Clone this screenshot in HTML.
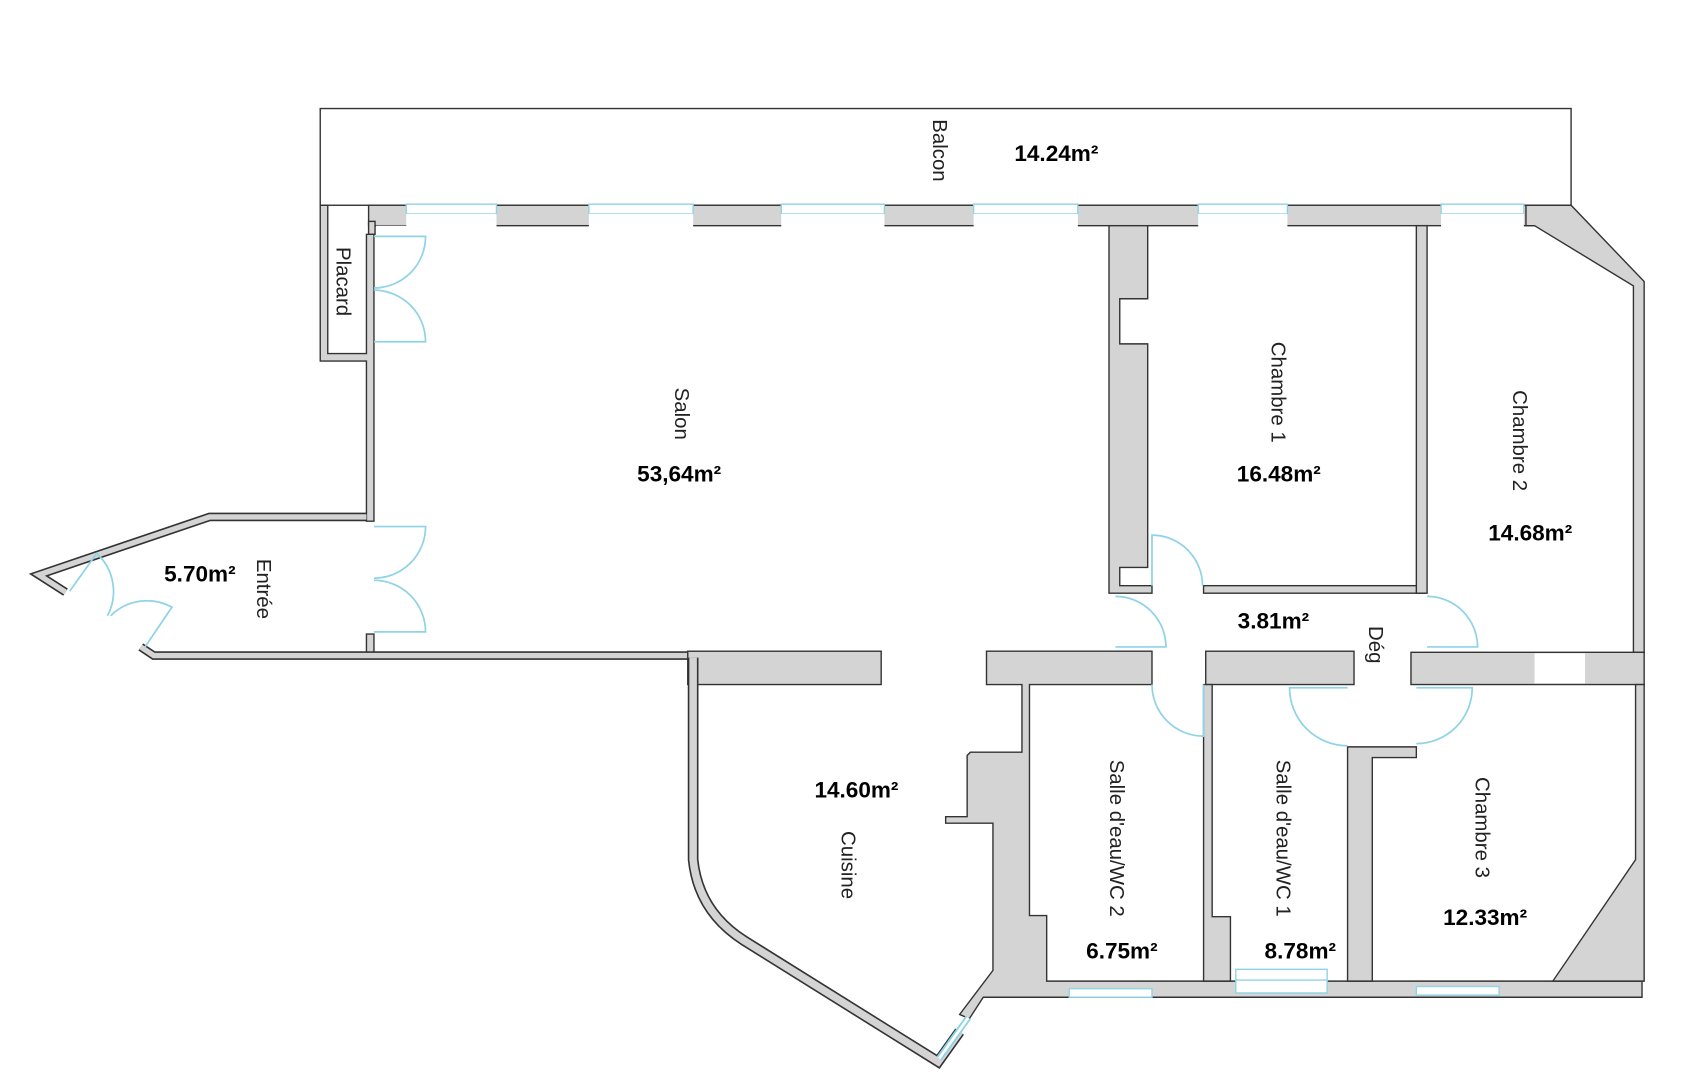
<!DOCTYPE html>
<html><head><meta charset="utf-8"><style>html,body{margin:0;padding:0;background:#fff;overflow:hidden}svg{display:block}
.l{font-family:"Liberation Sans",sans-serif;font-size:19px;fill:#222}
.a{font-family:"Liberation Sans Narrow","Liberation Sans",sans-serif;font-weight:bold;font-size:21px;fill:#000}
.w{fill:#d4d4d4;stroke:#333;stroke-width:1.3}
.d{fill:none;stroke:#8fd3e6;stroke-width:1.6}
</style></head><body>
<svg width="1685" height="1080" viewBox="0 0 1568 1005" preserveAspectRatio="none" xmlns="http://www.w3.org/2000/svg">
<rect x="298" y="101" width="1164" height="90" fill="none" stroke="#333" stroke-width="1.3"/>
<!-- top wall -->
<rect class="w" x="343" y="191" width="1119" height="19"/>
<g fill="#fff" stroke="#8fd3e6" stroke-width="1.3">
<rect x="378" y="190" width="84" height="9"/><rect x="548" y="190" width="97" height="9"/><rect x="727" y="190" width="96" height="9"/><rect x="906" y="190" width="97" height="9"/><rect x="1115" y="190" width="83" height="9"/><rect x="1341" y="190" width="77" height="9"/>
</g>
<g fill="#fff"><rect x="378" y="199" width="84" height="12"/><rect x="548" y="199" width="97" height="12"/><rect x="727" y="199" width="96" height="12"/><rect x="906" y="199" width="97" height="12"/><rect x="1115" y="199" width="83" height="12"/><rect x="1341" y="199" width="77" height="12"/><rect x="350" y="210" width="28" height="2"/></g>
<!-- placard + salon left -->
<path class="w" d="M298,191 H305 V329 H341 V218 H348 V485 H341 V336 H298 Z"/>
<rect class="w" x="341" y="590" width="7" height="18"/>
<rect class="w" x="343" y="206" width="6" height="12"/>
<!-- entry walls -->
<path d="M341,481 H195 L36,535 L61,551" fill="none" stroke="#333" stroke-width="8"/>
<path d="M341,481 H195 L36,535 L61,551" fill="none" stroke="#d4d4d4" stroke-width="5"/>
<path d="M131,602 L143,610 H646" fill="none" stroke="#333" stroke-width="8"/>
<path d="M131,602 L143,610 H646" fill="none" stroke="#d4d4d4" stroke-width="5"/>
<!-- cuisine -->
<rect class="w" x="640" y="606" width="180" height="31"/>
<path d="M645,612 V800 Q650,848 692,875 L873,988 L893,960" fill="none" stroke="#333" stroke-width="10"/>
<path d="M645,612 V800 Q650,848 692,875 L873,988 L893,960" fill="none" stroke="#d4d4d4" stroke-width="7"/>
<path class="w" d="M918,606 H1072 V637 H958 V852 H974 V913 H1528 V928 H915 L902,948 L893,944 L924,903 V766 H880 V760 H900 V703 L903,700 H951 V637 H918 Z"/>
<path d="M874,985 L901,947" stroke="#8fd3e6" stroke-width="6" fill="none"/><path d="M874,985 L901,947" stroke="#fff" stroke-width="2.5" fill="none"/>
<!-- chambre 1 -->
<path class="w" d="M1032,210 H1068 V278 H1042 V320 H1068 V528 H1042 V545 H1072 V552 H1032 Z"/>
<rect class="w" x="1120" y="545" width="206" height="7"/>
<rect class="w" x="1318" y="210" width="10" height="342"/>
<!-- chambre 2 right -->
<path class="w" d="M1420,191 H1462 L1530,262 V607 H1520 V266 L1428,210 H1420 Z"/>
<rect class="w" x="1313" y="607" width="217" height="30"/>
<rect x="1428" y="608" width="47" height="28" fill="#fff"/>
<!-- corridor walls -->
<rect class="w" x="1122" y="606" width="138" height="31"/>
<path class="w" d="M1120,637 H1128 V853 H1145 V913 H1120 Z"/>
<path class="w" d="M1254,695 H1318 V705 H1277 V913 H1254 Z"/>
<path class="w" d="M1522,637 H1530 V913 H1445 L1522,800 Z"/>
<rect fill="#fff" stroke="#8fd3e6" stroke-width="1.3" x="1150" y="902" width="85" height="22"/>
<line x1="1150" y1="912" x2="1235" y2="912" stroke="#8fd3e6" stroke-width="1.3"/>
<rect fill="#fff" stroke="#8fd3e6" stroke-width="1.3" x="995" y="920" width="77" height="8"/>
<rect fill="#fff" stroke="#8fd3e6" stroke-width="1.3" x="1318" y="918" width="77" height="8"/>
<!-- doors -->
<g class="d">
<path d="M348,220 H396 A48,48 0 0 1 348,268"/><path d="M348,318 H396 A48,48 0 0 0 348,270"/>
<path d="M348,490 H396 A48,48 0 0 1 348,538"/><path d="M348,588 H396 A48,48 0 0 0 348,540"/>
<path d="M65,550 L90,515 A48,48 0 0 1 100,573"/><path d="M135,602 L160,565 A48,48 0 0 0 103,573"/>
<path d="M1072,545 V498 A47,47 0 0 1 1119,545"/>
<path d="M1038,602 H1085 A47,47 0 0 0 1038,555"/>
<path d="M1120,637 V685 A48,48 0 0 1 1072,637"/>
<path d="M1254,640 H1200 A54,54 0 0 0 1254,694"/>
<path d="M1318,640 H1370 A52,52 0 0 1 1318,692"/>
<path d="M1328,602 H1375 A47,47 0 0 0 1328,555"/>
</g>
<!-- labels -->
<g class="l">
<text transform="translate(868,140) rotate(90)" text-anchor="middle">Balcon</text>
<text transform="translate(313,262) rotate(90)" text-anchor="middle">Placard</text>
<text transform="translate(628,385) rotate(90)" text-anchor="middle">Salon</text>
<text transform="translate(1183,365) rotate(90)" text-anchor="middle">Chambre 1</text>
<text transform="translate(1408,410) rotate(90)" text-anchor="middle">Chambre 2</text>
<text transform="translate(1274,600) rotate(90)" text-anchor="middle">Dég</text>
<text transform="translate(783,805) rotate(90)" text-anchor="middle">Cuisine</text>
<text transform="translate(1033,780) rotate(90)" text-anchor="middle">Salle d'eau/WC 2</text>
<text transform="translate(1188,780) rotate(90)" text-anchor="middle">Salle d'eau/WC 1</text>
<text transform="translate(1373,770) rotate(90)" text-anchor="middle">Chambre 3</text>
<text transform="translate(239,548) rotate(90)" text-anchor="middle">Entrée</text>
</g>
<g class="a" text-anchor="middle">
<text x="983" y="150">14.24m²</text>
<text x="632" y="448">53,64m²</text>
<text x="1190" y="448">16.48m²</text>
<text x="1424" y="503">14.68m²</text>
<text x="1185" y="585">3.81m²</text>
<text x="797" y="742">14.60m²</text>
<text x="1044" y="892">6.75m²</text>
<text x="1210" y="892">8.78m²</text>
<text x="1382" y="861">12.33m²</text>
<text x="186" y="541">5.70m²</text>
</g>
</svg>
</body></html>
